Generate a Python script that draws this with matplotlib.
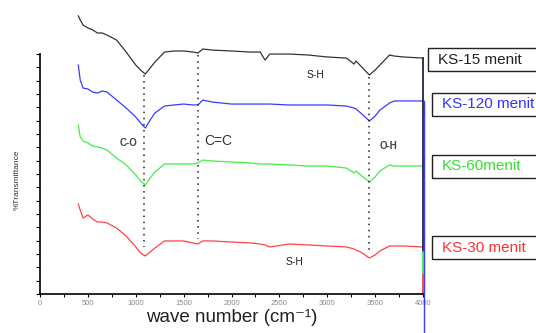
import numpy as np
import matplotlib
matplotlib.use("Agg")
import matplotlib.pyplot as plt
from matplotlib.patches import Rectangle

plt.rcParams['font.family'] = ['Liberation Sans', 'DejaVu Sans']

wn = [400, 420, 450, 500, 550, 600, 650, 700, 800, 900, 1000, 1050, 1100, 1150, 1200,
      1300, 1400, 1500, 1600, 1650, 1700, 1800, 2000, 2200, 2300, 2350, 2400, 2600,
      2800, 3000, 3200, 3280, 3300, 3350, 3440, 3500, 3550, 3650, 3700, 3800, 4000]

# offset %T curves (arbitrary units, stacked)
ks15 = [20.86, 20.56, 20.18, 19.96, 19.81, 19.58, 19.58, 19.43, 19.05, 18.15, 17.18, 16.80,
        16.50, 16.95, 17.40, 18.15, 18.23, 18.23, 18.15, 18.08, 18.38, 18.30, 18.23, 18.15,
        18.15, 17.55, 18.00, 18.00, 17.93, 17.78, 17.70, 17.25, 17.48, 17.10, 16.43, 16.80,
        17.18, 17.93, 17.85, 17.78, 17.70]
ks120 = [17.18, 16.05, 15.45, 15.38, 15.15, 15.08, 15.23, 15.15, 14.55, 13.95, 13.28, 12.83,
         12.45, 13.05, 13.58, 14.10, 14.18, 14.25, 14.18, 14.18, 14.55, 14.40, 14.25, 14.25,
         14.25, 14.25, 14.25, 14.18, 14.18, 14.18, 14.10, 13.95, 13.88, 13.58, 12.98, 13.35,
         13.80, 14.33, 14.48, 14.48, 14.48]
ks60 = [12.68, 11.78, 11.48, 11.33, 11.10, 11.03, 10.95, 10.80, 10.20, 9.68, 8.93, 8.48,
        8.18, 8.70, 9.15, 9.75, 9.75, 9.75, 9.75, 9.83, 10.05, 9.98, 9.90, 9.83,
        9.75, 9.75, 9.75, 9.68, 9.60, 9.60, 9.45, 9.08, 9.23, 8.93, 8.40, 8.78,
        9.23, 9.68, 9.60, 9.60, 9.60]
ks30 = [6.75, 6.30, 5.70, 5.93, 5.63, 5.40, 5.40, 5.33, 4.95, 4.35, 3.53, 3.08,
        2.85, 3.15, 3.45, 3.98, 3.98, 3.98, 3.83, 3.75, 3.98, 3.98, 3.90, 3.83,
        3.75, 3.68, 3.53, 3.75, 3.68, 3.60, 3.53, 3.38, 3.30, 3.15, 2.70, 2.93,
        3.23, 3.60, 3.60, 3.60, 3.53]

labels = ["KS-15 menit", "KS-120 menit", "KS-60menit", "KS-30 menit"]
colors = ["#333333", "#3b3bff", "#44ee44", "#ff4444"]
text_colors = ["#222222", "#3333ff", "#33dd33", "#ff3333"]

W, H = 536, 333
fig = plt.figure(figsize=(W / 100, H / 100), dpi=100)
ax = fig.add_axes([40 / W, (H - 294) / H, (423 - 40) / W, 294 / H])

for y, c in zip([ks15, ks120, ks60, ks30], colors):
    ax.plot(wn, y, color=c, lw=0.9, clip_on=False)

# vertical lines at the end of the spectra
ax.plot([4000, 4000], [ks15[-1], 3.15], color="#222244", lw=1.3, clip_on=False)
ax.plot([4000, 4000], [3.15, 1.43], color="#44ee44", lw=1.3, clip_on=False)
ax.plot([4000, 4000], [1.43, 0], color="#ff4444", lw=1.3, clip_on=False)
ax.plot([4012, 4012], [ks120[-1], -2.95], color="#3b3bff", lw=1.0, clip_on=False)

# dotted peak markers
ax.plot([1090, 1090], [16.4, 3.5], ls=(0, (1, 3)), color="#222222", lw=1.1)
ax.plot([1650, 1650], [17.9, 4.1], ls=(0, (1, 3)), color="#222222", lw=1.1)
ax.plot([3440, 3440], [16.3, 3.3], ls=(0, (1, 3)), color="#222222", lw=1.1)

ax.text(2880, 16.45, "S-H", fontsize=7.5, color="#222222", ha="center", va="center")
ax.text(920, 11.3, "C-O", fontsize=7, color="#444444", ha="center", va="center",
        fontweight="bold")
ax.text(1860, 11.45, "C=C", fontsize=10, color="#333333", ha="center", va="center")
ax.text(3640, 11.1, "O-H", fontsize=7, color="#444444", ha="center", va="center",
        fontweight="bold")
ax.text(2660, 2.4, "S-H", fontsize=7.5, color="#222222", ha="center", va="center")

ax.set_xlim(0, 4000)
ax.set_ylim(0, 294 / 13.33)
ax.spines['top'].set_visible(False)
ax.spines['right'].set_visible(False)
ax.spines['left'].set_bounds(0, 18)
ax.spines['left'].set_linewidth(1.2)
ax.spines['bottom'].set_linewidth(1.2)
ax.set_xticks(np.arange(0, 4001, 500))
ax.set_xticks(np.arange(250, 4000, 500), minor=True)
ax.set_yticks(np.arange(0, 19, 1))
ax.set_yticklabels([])
ax.tick_params(axis='x', which='both', direction='out', length=2.5, width=0.8,
               labelsize=5.5, labelcolor="#888888", pad=2)
ax.tick_params(axis='y', direction='out', length=3, width=0.8)

ax.set_xlabel("wave number (cm\u207b\u00b9)", fontsize=13.5, color="#222222", labelpad=1)
ax.set_ylabel("%Transmittance", fontsize=6, color="#333333")
ax.yaxis.set_label_coords(-19 / 383, 0.39)

# label boxes on the right
boxes = [(428, 48), (432, 93), (432, 155), (432, 236)]
for (bx, by), lab, tc in zip(boxes, labels, text_colors):
    fig.add_artist(Rectangle((bx / W, 1 - (by + 23) / H), (W - bx + 5) / W, 23 / H,
                             transform=fig.transFigure, fill=False, ec="#222222",
                             lw=1.0, clip_on=False))
    fig.text((bx + 10) / W, 1 - (by + 11.5) / H, lab, fontsize=11, color=tc,
             ha="left", va="center")

fig.savefig("out.png", dpi=100)
